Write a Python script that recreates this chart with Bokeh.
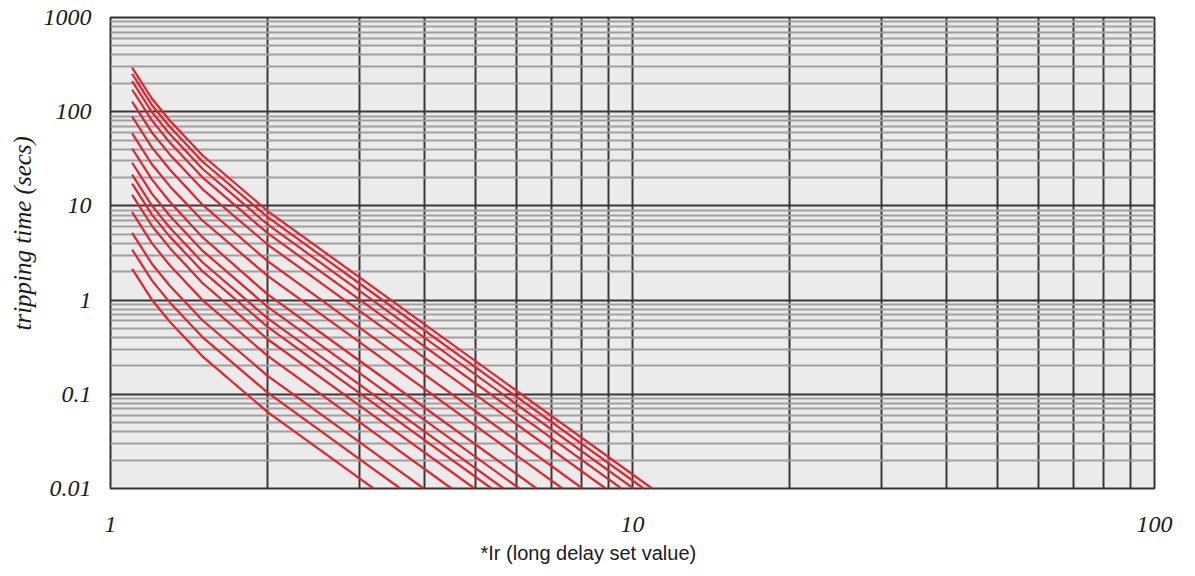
from bokeh.plotting import figure
from bokeh.models import FixedTicker, Range1d, Title, ColumnDataSource
from bokeh.embed import file_html
from bokeh.resources import INLINE

# ---------------- data ----------------
# tripping time (s) of each of the 16 curves at given multiples of Ir
x_samples = [1.1, 1.2, 1.3, 1.5, 2.0, 3.0]
t_at_1_1 = [2.15, 3.44, 5.18, 8.57, 13.1, 17.2, 21.5, 28.7, 40.7, 59, 89, 128, 172, 211, 252, 294]
t_at_1_2 = [1.01, 1.62, 2.43, 4.03, 6.16, 8.08, 10.1, 13.5, 19.1, 27.7, 41.8, 60.2, 80.8, 99.2, 118, 138]
t_at_1_3 = [0.586, 0.94, 1.41, 2.33, 3.56, 4.69, 5.85, 7.80, 11.0, 16.1, 24.2, 35.0, 46.8, 57.5, 68.7, 80.2]
t_at_1_5 = [0.253, 0.405, 0.611, 1.0, 1.52, 2.03, 2.52, 3.35, 4.66, 7.0, 10.3, 15.1, 20.1, 24.8, 29.6, 34.5]
t_at_2_0 = [0.0647, 0.104, 0.157, 0.256, 0.384, 0.52, 0.641, 0.848, 1.15, 1.81, 2.59, 3.89, 5.13, 6.35, 7.6, 8.82]
t_at_3_0 = [0.0128, 0.0205, 0.031, 0.0506, 0.0759, 0.103, 0.127, 0.168, 0.227, 0.358, 0.511, 0.768, 1.01, 1.25, 1.50, 1.74]
end_current = [3.19, 3.59, 3.98, 4.50, 4.98, 5.37, 5.66, 6.07, 6.55, 7.34, 8.02, 8.88, 9.52, 10.04, 10.5, 10.9]
end_time = 0.01

y_ticks = [0.01, 0.1, 1, 10, 100, 1000]
y_tick_labels = ["0.01", "0.1", "1", "10", "100", "1000"]
x_ticks = [1, 10, 100]
x_tick_labels = ["1", "10", "100"]
y_title = "tripping time (secs)"
x_title = "*Ir (long delay set value)"

# ---------------- build ----------------
columns = [t_at_1_1, t_at_1_2, t_at_1_3, t_at_1_5, t_at_2_0, t_at_3_0]
xs, ys = [], []
for i in range(len(end_current)):
    xs.append(x_samples + [end_current[i]])
    ys.append([c[i] for c in columns] + [end_time])
src = ColumnDataSource(dict(xs=xs, ys=ys))

p = figure(width=1187, height=568, x_axis_type="log", y_axis_type="log",
           x_range=Range1d(1, 100), y_range=Range1d(0.01, 1000),
           output_backend="svg", toolbar_location=None,
           min_border_left=110, min_border_right=33, min_border_top=17, min_border_bottom=80)
p.background_fill_color = "#ebebeb"
p.border_fill_color = "white"
p.outline_line_color = "#333333"
p.outline_line_width = 2

dark = "#383838"
x_grid_ticks = [m * d for d in (1, 10) for m in range(1, 10)] + [100]
p.xgrid.ticker = FixedTicker(ticks=x_grid_ticks)
p.xgrid.grid_line_color = dark
p.xgrid.grid_line_width = 2
y_minor = [m * d for d in (0.01, 0.1, 1, 10, 100) for m in range(2, 10)]
p.ygrid.ticker = FixedTicker(ticks=y_ticks, minor_ticks=y_minor)
p.ygrid.grid_line_color = dark
p.ygrid.grid_line_width = 2
p.ygrid.minor_grid_line_color = "#a0a0a0"
p.ygrid.minor_grid_line_width = 2

p.multi_line(xs="xs", ys="ys", source=src, line_color="#e8202a", line_width=2.2,
             line_join="round")

for ax in (p.xaxis, p.yaxis):
    ax.axis_line_color = None
    ax.major_tick_line_color = None
    ax.minor_tick_line_color = None
    ax.major_label_text_font = "Liberation Serif"
    ax.major_label_text_font_style = "italic"
    ax.major_label_text_font_size = "24px"
    ax.major_label_text_color = "#1a1a1a"

p.xaxis.ticker = FixedTicker(ticks=x_ticks)
p.xaxis.major_label_overrides = {v: s for v, s in zip(x_ticks, x_tick_labels)}
p.xaxis.major_label_standoff = 22
p.yaxis.ticker = FixedTicker(ticks=y_ticks)
p.yaxis.major_label_overrides = {v: s for v, s in zip(y_ticks, y_tick_labels)}
p.yaxis.major_label_standoff = 13

p.add_layout(Title(text=y_title, align="left", offset=158,
                   text_font="Liberation Serif", text_font_style="italic",
                   text_font_size="25px", text_color="#1a1a1a"), "left")
p.add_layout(Title(text=x_title, align="left", offset=370,
                   text_font="Liberation Sans", text_font_style="normal",
                   text_font_size="20px", text_color="#1a1a1a"), "below")

open("out.html", "w").write(file_html(p, INLINE))
